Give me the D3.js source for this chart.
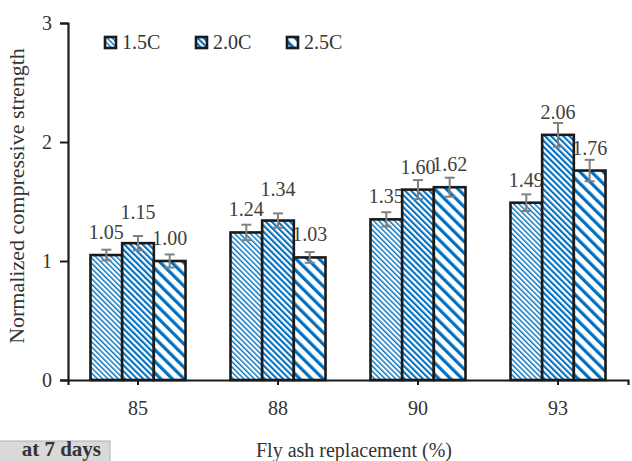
<!DOCTYPE html>
<html>
<head>
<meta charset="utf-8">
<script src="https://cdnjs.cloudflare.com/ajax/libs/d3/7.8.5/d3.min.js"></script>
<style>
html,body{margin:0;padding:0;background:#fff;}
svg{display:block;font-family:"Liberation Serif","Times New Roman",serif;}
</style>
</head>
<body>
<svg id="chart" width="632" height="461"></svg>
<script>
// ---- data ----
const categories = ["85", "88", "90", "93"];
const seriesNames = ["1.5C", "2.0C", "2.5C"];
const values15 = [1.05, 1.24, 1.35, 1.49];
const values20 = [1.15, 1.34, 1.60, 2.06];
const values25 = [1.00, 1.03, 1.62, 1.76];
const errors15 = [0.045, 0.065, 0.06, 0.07];
const errors20 = [0.06, 0.06, 0.08, 0.10];
const errors25 = [0.055, 0.045, 0.08, 0.09];
const yTicks = [0, 1, 2, 3];
const xTitle = "Fly ash replacement (%)";
const yTitle = "Normalized compressive strength";
const noteText = "at 7 days";

const seriesValues = [values15, values20, values25];
const seriesErrors = [errors15, errors20, errors25];

// ---- layout ----
const svg = d3.select("#chart");
const blue = "#0070C0";
const plotL = 68, plotR = 628, plotT = 23, plotB = 380;

const x = d3.scaleBand().domain(categories).range([plotL, plotR]).paddingInner(0).paddingOuter(0);
const xs = d3.scaleBand().domain(seriesNames).range([0, x.bandwidth()]).paddingInner(0).paddingOuter(0.71);
const y = d3.scaleLinear().domain([0, 3]).range([plotB, plotT]);

// ---- patterns ----
const defs = svg.append("defs");
const patSpecs = [
  {id: "p0", size: 3.7, w: 1.4},
  {id: "p1", size: 4.3, w: 2.1},
  {id: "p2", size: 8.2, w: 3.2}
];
patSpecs.forEach(p => {
  const pat = defs.append("pattern")
    .attr("id", p.id)
    .attr("patternUnits", "userSpaceOnUse")
    .attr("width", p.size).attr("height", p.size)
    .attr("patternTransform", "rotate(-45)");
  pat.append("rect").attr("width", p.size).attr("height", p.size).attr("fill", "#fff");
  pat.append("rect").attr("x", 0).attr("y", 0).attr("width", p.w).attr("height", p.size).attr("fill", blue);
});

// flatten data
const rows = [];
categories.forEach((c, i) => {
  seriesNames.forEach((s, j) => {
    rows.push({cat: c, ser: s, si: j, ci: i, v: seriesValues[j][i], e: seriesErrors[j][i]});
  });
});

// label positions (default offset, lift middle label if it collides with left one)
rows.forEach(r => { r.ly = y(r.v) - 23; });
categories.forEach((c, i) => {
  const a = rows.find(r => r.ci === i && r.si === 0);
  const b = rows.find(r => r.ci === i && r.si === 1);
  if (Math.abs(a.ly - b.ly) < 14) b.ly = a.ly - 20;
});

// ---- data labels (behind bars) ----
svg.append("g").selectAll("text").data(rows).join("text")
  .attr("x", d => x(d.cat) + xs(d.ser) + xs.bandwidth() / 2)
  .attr("y", d => d.ly + 7)
  .attr("text-anchor", "middle")
  .attr("font-size", 20)
  .attr("fill", "#404040")
  .text(d => d.v.toFixed(2));

// ---- bars ----
svg.append("g").selectAll("rect").data(rows).join("rect")
  .attr("x", d => x(d.cat) + xs(d.ser))
  .attr("y", d => y(d.v))
  .attr("width", xs.bandwidth())
  .attr("height", d => y(0) - y(d.v))
  .attr("fill", d => `url(#p${d.si})`)
  .attr("stroke", "#1a1a1a")
  .attr("stroke-width", 2.6);

// ---- error bars ----
const eg = svg.append("g").attr("stroke", "#808080").attr("stroke-width", 2).attr("fill", "none");
rows.forEach(d => {
  const cx = x(d.cat) + xs(d.ser) + xs.bandwidth() / 2;
  const y1 = y(d.v + d.e), y2 = y(d.v - d.e);
  eg.append("line").attr("x1", cx).attr("x2", cx).attr("y1", y1).attr("y2", y2);
  eg.append("line").attr("x1", cx - 5).attr("x2", cx + 5).attr("y1", y1).attr("y2", y1);
  eg.append("line").attr("x1", cx - 5).attr("x2", cx + 5).attr("y1", y2).attr("y2", y2);
});

// ---- axes ----
const yAxis = d3.axisLeft(y).tickValues(yTicks).tickSize(8).tickPadding(8).tickFormat(d3.format("d"));
const ya = svg.append("g").attr("transform", `translate(${plotL},0)`).call(yAxis);
ya.select(".domain").attr("stroke", "#1a1a1a").attr("stroke-width", 2.2);
ya.selectAll(".tick line").attr("stroke", "#1a1a1a").attr("stroke-width", 2);
ya.selectAll("text").attr("font-size", 20).attr("fill", "#333").attr("font-family", "Liberation Serif");

const xAxis = d3.axisBottom(x).tickSize(5).tickPadding(16).tickSizeOuter(5);
const xa = svg.append("g").attr("transform", `translate(0,${plotB})`).call(xAxis);
xa.select(".domain").attr("stroke", "#1a1a1a").attr("stroke-width", 2.2);
xa.selectAll(".tick line").attr("stroke", "#1a1a1a").attr("stroke-width", 2);
xa.selectAll("text").attr("font-size", 20).attr("fill", "#333").attr("font-family", "Liberation Serif");

// ---- titles ----
svg.append("text")
  .attr("x", 354).attr("y", 457)
  .attr("text-anchor", "middle").attr("font-size", 20).attr("fill", "#333")
  .text(xTitle);
svg.append("text")
  .attr("transform", "translate(24,196) rotate(-90)")
  .attr("text-anchor", "middle").attr("font-size", 22).attr("fill", "#333")
  .text(yTitle);

// ---- legend ----
const lg = svg.append("g");
seriesNames.forEach((s, j) => {
  const lx = 105 + j * 91;
  lg.append("rect").attr("x", lx).attr("y", 37).attr("width", 11).attr("height", 11)
    .attr("fill", `url(#p${j})`).attr("stroke", "#1a1a1a").attr("stroke-width", 2.6);
  lg.append("text").attr("x", lx + 17).attr("y", 49).attr("font-size", 20).attr("fill", "#333").text(s);
});

// ---- note box ----
svg.append("rect").attr("x", -3).attr("y", 441).attr("width", 113).attr("height", 30)
  .attr("fill", "#d9d9d9").attr("stroke", "#b0b0b0").attr("stroke-width", 1);
svg.append("text").attr("x", 101).attr("y", 456).attr("text-anchor", "end")
  .attr("font-size", 21).attr("font-weight", "bold").attr("fill", "#333").text(noteText);
</script>
</body>
</html>
